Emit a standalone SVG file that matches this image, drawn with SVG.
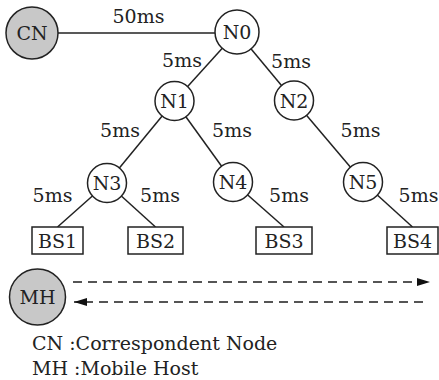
<svg xmlns="http://www.w3.org/2000/svg" width="439" height="380" viewBox="0 0 439 380">
<style>
text{font-family:"DejaVu Serif","Liberation Serif",serif;font-size:19px;fill:#222;}
.c{text-anchor:middle;}
.node{fill:#fff;stroke:#222;stroke-width:1.5;}
.host{fill:#c8c8c8;stroke:#222;stroke-width:1.5;}
.bs{fill:#fff;stroke:#222;stroke-width:1.5;}
.link{stroke:#222;stroke-width:1.5;fill:none;}
.dash{stroke:#555;stroke-width:2;stroke-dasharray:9 6;fill:none;}
</style>
<defs>
<marker id="ah" markerWidth="14" markerHeight="10" refX="13" refY="5" orient="auto" markerUnits="userSpaceOnUse">
<path d="M0,1 L13,5 L0,9 Z" fill="#111"/>
</marker>
</defs>
<g id="connectors">
<line class="link" x1="58" y1="33" x2="215" y2="33"/>
<line class="link" x1="237" y1="32" x2="174.5" y2="101"/>
<line class="link" x1="237" y1="32" x2="294" y2="100.5"/>
<line class="link" x1="174.5" y1="101" x2="107" y2="183"/>
<line class="link" x1="174.5" y1="101" x2="233" y2="182"/>
<line class="link" x1="294" y1="100.5" x2="363" y2="182"/>
<line class="link" x1="107" y1="183" x2="57.5" y2="227"/>
<line class="link" x1="107" y1="183" x2="155.5" y2="227"/>
<line class="link" x1="233" y1="182" x2="284" y2="227"/>
<line class="link" x1="363" y1="182" x2="412.5" y2="227"/>
<line class="dash" x1="73" y1="282" x2="430" y2="282" marker-end="url(#ah)"/>
<line class="dash" x1="423" y1="302" x2="74" y2="302" marker-end="url(#ah)"/>
</g>
<g id="labels">
<text class="c" x="138.5" y="23">50ms</text>
<text class="c" x="182" y="67">5ms</text>
<text class="c" x="291" y="68">5ms</text>
<text class="c" x="120" y="137">5ms</text>
<text class="c" x="232" y="137">5ms</text>
<text class="c" x="360.5" y="137">5ms</text>
<text class="c" x="52.5" y="202">5ms</text>
<text class="c" x="160" y="202">5ms</text>
<text class="c" x="289" y="202">5ms</text>
<text class="c" x="418.5" y="202">5ms</text>
</g>
<g id="CN"><circle class="host" cx="32" cy="33" r="26"/><text class="c" x="32" y="40">CN</text></g>
<g id="N0"><circle class="node" cx="237" cy="32" r="22"/><text class="c" x="237" y="39">N0</text></g>
<g id="N1"><circle class="node" cx="174.5" cy="101" r="19.5"/><text class="c" x="174.5" y="108">N1</text></g>
<g id="N2"><circle class="node" cx="294" cy="100.5" r="19.5"/><text class="c" x="294" y="107.5">N2</text></g>
<g id="N3"><circle class="node" cx="107" cy="183" r="19.5"/><text class="c" x="107" y="190">N3</text></g>
<g id="N4"><circle class="node" cx="233" cy="182" r="19.5"/><text class="c" x="233" y="189">N4</text></g>
<g id="N5"><circle class="node" cx="363" cy="182" r="19.5"/><text class="c" x="363" y="189">N5</text></g>
<g id="BS1"><rect class="bs" x="32" y="227" width="51" height="27"/><text class="c" x="57.5" y="248">BS1</text></g>
<g id="BS2"><rect class="bs" x="128" y="227" width="55" height="27"/><text class="c" x="155.5" y="248">BS2</text></g>
<g id="BS3"><rect class="bs" x="256" y="227" width="56" height="27"/><text class="c" x="284" y="248">BS3</text></g>
<g id="BS4"><rect class="bs" x="387" y="227" width="51" height="27"/><text class="c" x="412.5" y="248">BS4</text></g>
<g id="MH"><circle class="host" cx="37.5" cy="297" r="28"/><text class="c" x="37.5" y="304">MH</text></g>
<g id="legend">
<text x="32" y="350">CN :Correspondent Node</text>
<text x="32" y="375">MH :Mobile Host</text>
</g>
</svg>
